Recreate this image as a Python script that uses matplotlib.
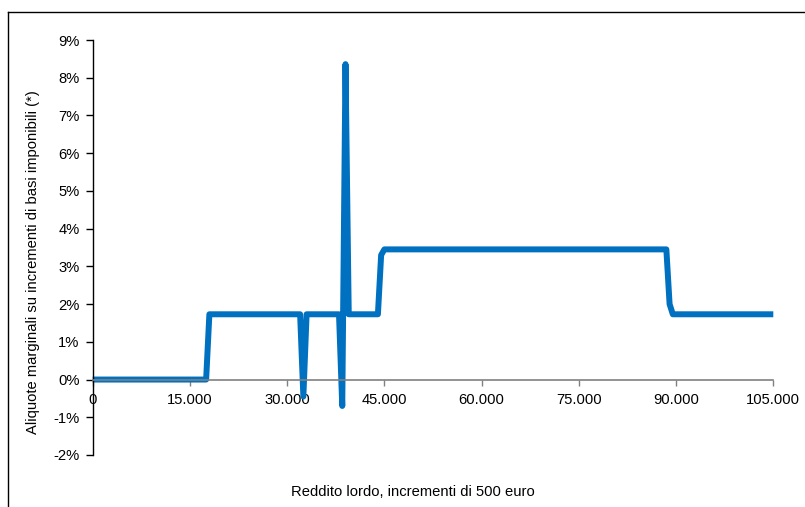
import matplotlib
matplotlib.use("Agg")
import matplotlib.pyplot as plt
from matplotlib.ticker import FuncFormatter, MultipleLocator
from matplotlib.lines import Line2D

plt.rcParams['font.family'] = ['Liberation Sans', 'DejaVu Sans']

# Income levels (euro), increments of 500
income_start = 0
income_step = 500
# Marginal rate (%) at each income level, 0 ... 105.000
rates = [
    0, 0, 0, 0, 0, 0, 0, 0, 0, 0, 0, 0,
    0, 0, 0, 0, 0, 0, 0, 0, 0, 0, 0, 0,
    0, 0, 0, 0, 0, 0, 0, 0, 0, 0, 0, 0,          # 0 - 17.500
    1.73, 1.73, 1.73, 1.73, 1.73, 1.73, 1.73, 1.73, 1.73, 1.73,
    1.73, 1.73, 1.73, 1.73, 1.73, 1.73, 1.73, 1.73, 1.73, 1.73,
    1.73, 1.73, 1.73, 1.73, 1.73, 1.73, 1.73, 1.73, 1.73,  # 18.000 - 32.000
    -0.45,                                               # 32.500
    1.73, 1.73, 1.73, 1.73, 1.73, 1.73, 1.73, 1.73, 1.73, 1.73,
    1.73,                                                # 33.000 - 38.000
    -0.70,                                               # 38.500
    8.36,                                                # 39.000
    1.73, 1.73, 1.73, 1.73, 1.73, 1.73, 1.73, 1.73, 1.73, 1.73,  # 39.500 - 44.000
    3.30,                                                # 44.500
    3.45, 3.45, 3.45, 3.45, 3.45, 3.45, 3.45, 3.45, 3.45, 3.45, 3.45,
    3.45, 3.45, 3.45, 3.45, 3.45, 3.45, 3.45, 3.45, 3.45, 3.45, 3.45,
    3.45, 3.45, 3.45, 3.45, 3.45, 3.45, 3.45, 3.45, 3.45, 3.45, 3.45,
    3.45, 3.45, 3.45, 3.45, 3.45, 3.45, 3.45, 3.45, 3.45, 3.45, 3.45,
    3.45, 3.45, 3.45, 3.45, 3.45, 3.45, 3.45, 3.45, 3.45, 3.45, 3.45,
    3.45, 3.45, 3.45, 3.45, 3.45, 3.45, 3.45, 3.45, 3.45, 3.45, 3.45,
    3.45, 3.45, 3.45, 3.45, 3.45, 3.45, 3.45, 3.45, 3.45, 3.45, 3.45,
    3.45, 3.45, 3.45, 3.45, 3.45, 3.45, 3.45, 3.45, 3.45, 3.45, 3.45,  # 45.000 - 88.500
    2.00,                                                # 89.000
    1.73, 1.73, 1.73, 1.73, 1.73, 1.73, 1.73, 1.73, 1.73, 1.73,
    1.73, 1.73, 1.73, 1.73, 1.73, 1.73, 1.73, 1.73, 1.73, 1.73,
    1.73, 1.73, 1.73, 1.73, 1.73, 1.73, 1.73, 1.73, 1.73, 1.73,
    1.73, 1.73,                                          # 89.500 - 105.000
]
incomes = [income_start + income_step * i for i in range(len(rates))]

x_label = "Reddito lordo, incrementi di 500 euro"
y_label = "Aliquote marginali su incrementi di basi imponibili (*)"

W, H = 805, 507
fig = plt.figure(figsize=(W / 100, H / 100), dpi=100)
ax = fig.add_axes([92.7 / W, 1 - 455 / H, (773.3 - 92.7) / W, (455 - 40) / H])

ax.plot(incomes, rates, color='#0070C0', lw=4.3, solid_joinstyle='round',
        solid_capstyle='butt', clip_on=False)

ax.set_xlim(0, 105000)
ax.set_ylim(-2, 9)
ax.xaxis.set_major_locator(MultipleLocator(15000))
ax.yaxis.set_major_locator(MultipleLocator(1))
ax.xaxis.set_major_formatter(FuncFormatter(lambda v, p: f"{int(v):,}".replace(",", ".")))
ax.yaxis.set_major_formatter(FuncFormatter(lambda v, p: f"{int(round(v))}%"))

for s in ['top', 'right']:
    ax.spines[s].set_visible(False)
ax.spines['bottom'].set_position(('data', 0))
ax.spines['bottom'].set_color('#808080')
ax.spines['bottom'].set_linewidth(1.2)
ax.spines['left'].set_color('black')
ax.spines['left'].set_linewidth(1.0)

fs = 10.6
ax.tick_params(axis='x', direction='out', length=4, width=1, color='#808080',
               labelsize=fs, pad=6, labelcolor='black')
ax.tick_params(axis='y', direction='out', length=5, width=1, color='black',
               labelsize=fs, pad=4.5, labelcolor='black')

fig.text(33 / W, 1 - 262 / H, y_label, rotation=90, ha='center', va='center', fontsize=fs)
fig.text(413 / W, 1 - 492 / H, x_label, ha='center', va='center', fontsize=fs)

# Outer frame (left and top edges visible)
fx = 8 / W
fy = 1 - 12 / H
fig.add_artist(Line2D([fx, fx], [0, fy], transform=fig.transFigure, color='black', lw=1.0))
fig.add_artist(Line2D([fx, 1], [fy, fy], transform=fig.transFigure, color='black', lw=1.0))

fig.savefig("out.png", dpi=100)
